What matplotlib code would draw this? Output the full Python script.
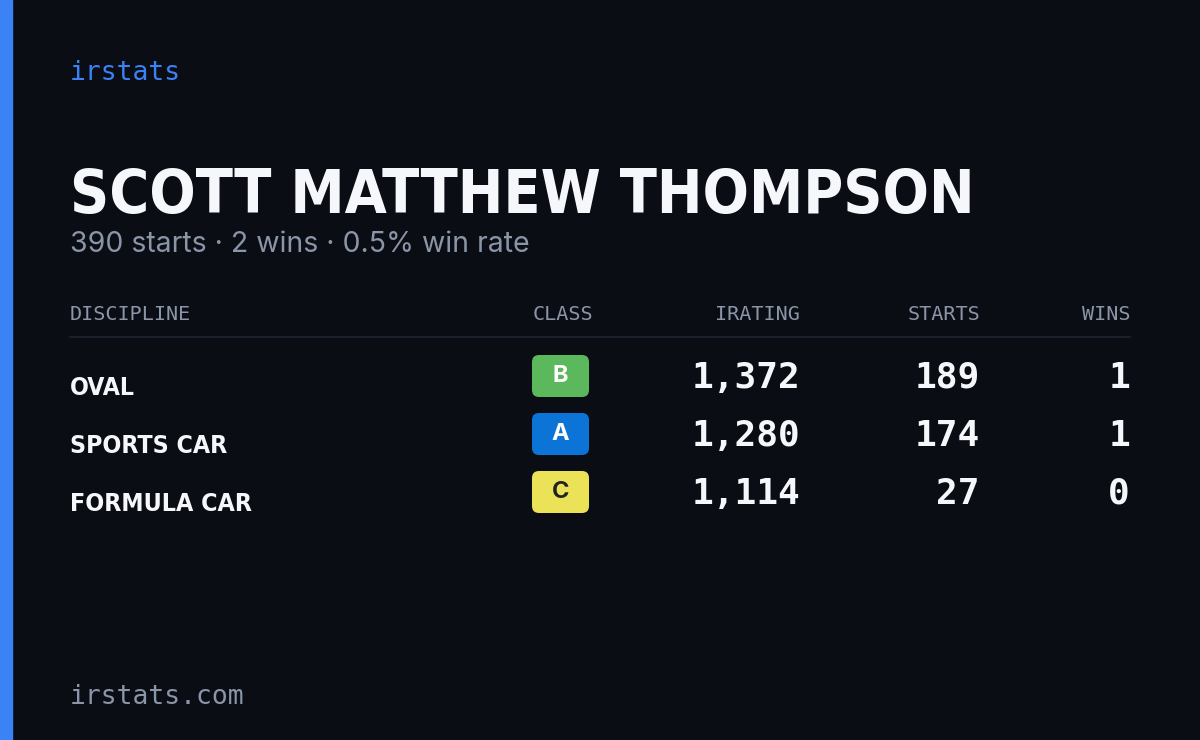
import matplotlib
matplotlib.use("Agg")
import matplotlib.pyplot as plt
from matplotlib.patches import FancyBboxPatch, Rectangle

name = "SCOTT MATTHEW THOMPSON"
subtitle = "390 starts · 2 wins · 0.5% win rate"
headers = ["DISCIPLINE", "CLASS", "IRATING", "STARTS", "WINS"]
disciplines = ["OVAL", "SPORTS CAR", "FORMULA CAR"]
classes = ["B", "A", "C"]
ratings = [1372, 1280, 1114]
starts = [189, 174, 27]
wins = [1, 1, 0]

W, H = 1200, 740
BG = "#0a0d14"
GRAY = "#8b95a8"
WHITE = "#f5f7fb"
class_colors = {"B": ("#5cb85c", "#ffffff"), "A": ("#0b74d6", "#ffffff"), "C": ("#ece257", "#222222")}

fig = plt.figure(figsize=(12, 7.4), dpi=100, facecolor=BG)
ax = fig.add_axes([0, 0, 1, 1])
ax.set_xlim(0, W); ax.set_ylim(H, 0); ax.axis("off")
ax.set_facecolor(BG)
ax.add_patch(Rectangle((0, 0), 12, H, color="#3b82f6"))

mono = "DejaVu Sans Mono"
cond = "DejaVu Sans"

def fit(t, width):
    fig.canvas.draw()
    bb = t.get_window_extent()
    if bb.width > width:
        t.set_fontsize(t.get_fontsize() * width / bb.width)

ax.text(70, 73, "irstats", color="#3b82f6", fontsize=19, family=mono, va="center")
t = ax.text(70, 213, name, color=WHITE, fontsize=62, family=cond, stretch="condensed",
            weight="bold", va="baseline")
fit(t, 905)
ax.text(70, 245, subtitle, color=GRAY, fontsize=20.5, family="Inter", va="center")

hx = [70, 593, 800, 980, 1130]
ha = ["left", "right", "right", "right", "right"]
for x, h, a in zip(hx, headers, ha):
    ax.text(x, 314, h, color=GRAY, fontsize=14.5, family=mono, ha=a, va="center")
ax.plot([70, 1130], [337, 337], color="#1f2533", lw=1.2)

for i, d in enumerate(disciplines):
    yc = 376 + 58 * i
    td = ax.text(70, yc + 19, d, color=WHITE, fontsize=25, family=cond, stretch="condensed",
                 weight="bold", va="baseline")
    fit(td, [65, 157, 182][i])
    fc, tc = class_colors[classes[i]]
    ax.add_patch(FancyBboxPatch((532, yc - 21), 57, 42, boxstyle="round,pad=0,rounding_size=7",
                                fc=fc, ec="none"))
    ax.text(560.5, yc, classes[i], color=tc, fontsize=17, family="Inter", weight="bold",
            ha="center", va="center")
    ax.text(800, yc + 2, f"{ratings[i]:,}", color=WHITE, fontsize=26, family=mono, weight="bold", ha="right", va="center")
    ax.text(980, yc + 2, str(starts[i]), color=WHITE, fontsize=26, family=mono, weight="bold", ha="right", va="center")
    ax.text(1130, yc + 2, str(wins[i]), color=WHITE, fontsize=26, family=mono, weight="bold", ha="right", va="center")

ax.text(70, 697, "irstats.com", color=GRAY, fontsize=19, family=mono, va="center")
fig.savefig("out.png", dpi=100, facecolor=BG)
